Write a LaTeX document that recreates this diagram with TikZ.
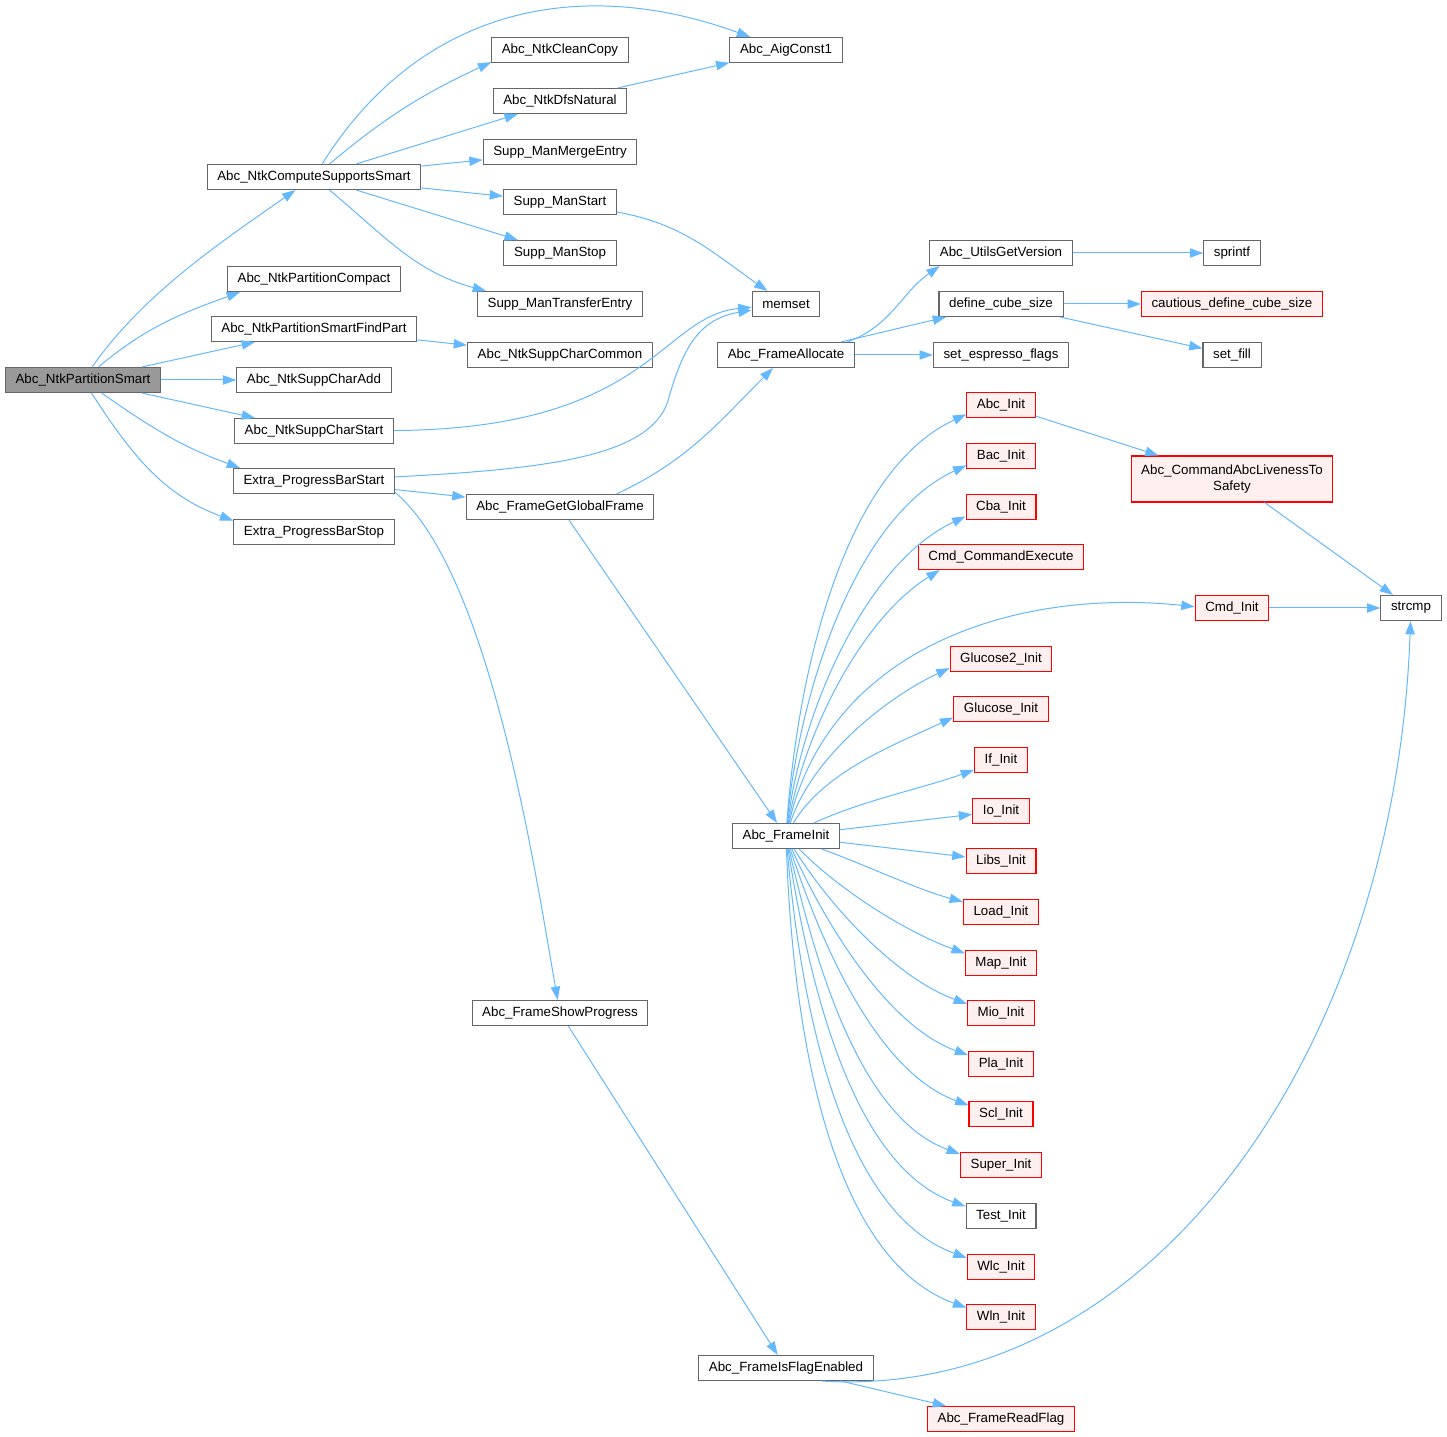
\documentclass[tikz,border=0pt]{standalone}
\usepackage{fontspec}
\setmainfont{Liberation Sans}
\usepackage{tikz}
\usetikzlibrary{arrows.meta, calc}
\definecolor{callblue}{HTML}{63B8FF}
\definecolor{boxgrey}{HTML}{666666}
\definecolor{rootgrey}{HTML}{999999}
\definecolor{boxred}{HTML}{FF0000}
\definecolor{redfill}{HTML}{FFF0F0}
\tikzset{
  fn/.style={draw=boxgrey, line width=0.8pt, fill=white, text=black,
             minimum height=18.75pt, inner xsep=7.6pt, inner ysep=2pt},
  fnred/.style={fn, draw=boxred, fill=redfill},
  fnroot/.style={fn, fill=rootgrey},
  call/.style={-{Triangle[length=10pt, width=7pt]}, draw=callblue, line width=0.75pt}
}
\newcommand{\fnbox}[4][fn]{%
  \node[#1] (#2) at (#3) {#4};}

\begin{document}
\begin{tikzpicture}[x=0.75pt, y=0.75pt, font=\fontsize{10}{12}\selectfont]
  \useasboundingbox (0,0) rectangle (1447,-1437);
  \fnbox[fnroot]{ps}{83,-380}{Abc\_NtkPartitionSmart}
  \fnbox{css}{314,-177}{Abc\_NtkComputeSupportsSmart}
  \fnbox{pc}{314,-279}{Abc\_NtkPartitionCompact}
  \fnbox{fp}{314,-329}{Abc\_NtkPartitionSmartFindPart}
  \fnbox{sca}{314,-380}{Abc\_NtkSuppCharAdd}
  \fnbox{scs}{314,-431}{Abc\_NtkSuppCharStart}
  \fnbox{pbs}{314,-481}{Extra\_ProgressBarStart}
  \fnbox{pbt}{314,-532}{Extra\_ProgressBarStop}
  \fnbox{cc}{560,-50}{Abc\_NtkCleanCopy}
  \fnbox{dfs}{560,-101}{Abc\_NtkDfsNatural}
  \fnbox{sme}{560,-152}{Supp\_ManMergeEntry}
  \fnbox{sms}{560,-202}{Supp\_ManStart}
  \fnbox{smp}{560,-253}{Supp\_ManStop}
  \fnbox{smt}{560,-304}{Supp\_ManTransferEntry}
  \fnbox{scc}{560,-355}{Abc\_NtkSuppCharCommon}
  \fnbox{ggf}{560,-507}{Abc\_FrameGetGlobalFrame}
  \fnbox{fsp}{560,-1013}{Abc\_FrameShowProgress}
  \fnbox{ac1}{786,-50}{Abc\_AigConst1}
  \fnbox{mset}{786,-304}{memset}
  \fnbox{fal}{786,-355}{Abc\_FrameAllocate}
  \fnbox{fin}{786,-836}{Abc\_FrameInit}
  \fnbox{ife}{786,-1368}{Abc\_FrameIsFlagEnabled}
  \fnbox{ugv}{1001,-253}{Abc\_UtilsGetVersion}
  \fnbox{dcs}{1001,-304}{define\_cube\_size}
  \fnbox{sef}{1001,-355}{set\_espresso\_flags}
  \foreach \nm/\txt/\yy in {abci/Abc\_Init/405, baci/Bac\_Init/456, cbai/Cba\_Init/507,
      cce/Cmd\_CommandExecute/557, gl2i/Glucose2\_Init/659, gli/Glucose\_Init/709,
      ifi/If\_Init/760, ioi/Io\_Init/811, libi/Libs\_Init/861, ldi/Load\_Init/912,
      mapi/Map\_Init/963, mioi/Mio\_Init/1013, plai/Pla\_Init/1064, scli/Scl\_Init/1114,
      supi/Super\_Init/1165, wlci/Wlc\_Init/1267, wlni/Wln\_Init/1317}
    \node[fnred] (\nm) at (1001,-\yy) {\txt};
  \fnbox{testi}{1001,-1216}{Test\_Init}
  \fnbox[fnred]{rfl}{1001,-1419}{Abc\_FrameReadFlag}
  \fnbox{spf}{1232,-253}{sprintf}
  \fnbox[fnred]{cdc}{1232,-304}{cautious\_define\_cube\_size}
  \fnbox{sfl}{1232,-355}{set\_fill}
  \fnbox[fnred, align=center, minimum height=34.5pt]{lts}{1232,-479}{Abc\_CommandAbcLivenessTo\\Safety}
  \fnbox[fnred]{cmi}{1232,-608}{Cmd\_Init}
  \fnbox{scmp}{1411,-608}{strcmp}

  \draw[call] (ps) to[out=55, in=215, looseness=0.85] (css);
  \draw[call] (ps) to[out=40, in=200] (pc.190);
  \draw[call] (ps) -- (fp);
  \draw[call] (ps) -- (sca);
  \draw[call] (ps) -- (scs);
  \draw[call] (ps) to[out=-35, in=160] (pbs.170);
  \draw[call] (ps) to[out=-57, in=160] (pbt.172);

  \draw[call] (css) to[out=58, in=160, looseness=1.05] (ac1);
  \draw[call] (css) to[out=40, in=205] (cc.190);
  \draw[call] (css) -- (dfs);
  \draw[call] (css) -- (sme);
  \draw[call] (css) -- (sms);
  \draw[call] (css) -- (smp);
  \draw[call] (css) to[out=-40, in=165] (smt.170);
  \draw[call] (dfs) -- (ac1);
  \draw[call] (sms) to[out=-10, in=145] (mset);
  \draw[call] (fp) -- (scc);
  \draw[call] (scs) .. controls (650,-429) and (660,-316) .. (mset);
  \draw[call] (pbs) .. controls (550,-469) and (650,-456) .. (668,-401)
                    .. controls (683,-346) and (700,-319) .. (mset);
  \draw[call] (pbs) -- (ggf);
  \draw[call] (pbs.-8) to[out=-40, in=100, looseness=0.6] (fsp);

  \draw[call] (ggf.13) to[out=25, in=225] (fal);
  \draw[call] (ggf) -- (fin);
  \draw[call] (fsp) -- (ife);
  \draw[call] (fal.12) to[out=20, in=215] (ugv.192);
  \draw[call] (fal) -- (dcs);
  \draw[call] (fal) -- (sef);
  \draw[call] (ugv) -- (spf);
  \draw[call] (dcs) -- (cdc);
  \draw[call] (dcs) -- (sfl);

  \foreach \tg/\o/\i in {abci.195/86/205, baci.195/85/205, cbai.195/83/205,
      cce.192/80/212, gl2i.190/72/205, gli.190/60/205, ifi.200/25/200,
      ldi.165/-20/165, mapi.165/-45/160, mioi.165/-58/160, plai.165/-66/160,
      scli.165/-72/160, supi.165/-77/160, testi.165/-81/160, wlci.165/-85/160,
      wlni.165/-88/160}
    \draw[call] (fin) to[out=\o, in=\i, looseness=0.8] (\tg);
  \draw[call] (fin) to[out=77, in=174] (cmi.178);
  \draw[call] (fin) -- (ioi);
  \draw[call] (fin) -- (libi);

  \draw[call] (abci) -- (lts);
  \draw[call] (lts) -- (scmp);
  \draw[call] (cmi) -- (scmp);
  \draw[call] (ife) -- (rfl);
  \draw[call] (ife.-20) .. controls (1150,-1401) and (1395,-1051) .. (scmp);
\end{tikzpicture}
\end{document}
